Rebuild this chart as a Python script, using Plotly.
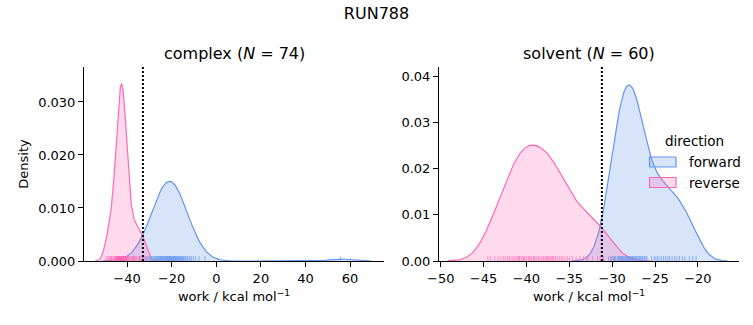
import numpy as np
import plotly.graph_objects as go

# ---------------- data ----------------
fig_title = "RUN788"
phases = ["complex", "solvent"]
phase_n = [74, 60]
directions = ["forward", "reverse"]
legend_title = "direction"

complex_forward = [
    -37.0, -34.3, -32.8, -31.8, -31.0, -30.3, -29.8, -29.2, -28.8, -28.3, -27.9, -27.5,
    -27.2, -26.8, -26.5, -26.2, -25.9, -25.6, -25.3, -25.0, -24.8, -24.5, -24.3, -24.0,
    -23.8, -23.5, -23.3, -23.0, -22.8, -22.6, -22.3, -22.1, -21.9, -21.7, -21.4, -21.2,
    -21.0, -20.8, -20.6, -20.3, -20.1, -19.9, -19.7, -19.4, -19.2, -19.0, -18.7, -18.5,
    -18.2, -18.0, -17.7, -17.5, -17.2, -17.0, -16.7, -16.4, -16.1, -15.8, -15.5, -15.2,
    -14.8, -14.5, -14.1, -13.7, -13.2, -12.8, -12.2, -11.7, -11.0, -10.2, -9.2, -7.7,
    -5.0, 55.6,
]
complex_reverse = [
    -49.5, -48.8, -48.2, -47.7, -47.0,
    -47.3, -46.4, -45.9, -45.6, -45.3, -45.1, -44.9, -44.8, -44.6, -44.5, -44.3, -44.2,
    -44.1, -44.0, -43.8, -43.7, -43.6, -43.5, -43.4, -43.3, -43.3, -43.2, -43.1, -43.0,
    -42.9, -42.8, -42.7, -42.6, -42.5,
    -42.5, -42.4, -42.3, -42.2, -42.1, -42.0, -41.9, -41.8, -41.7, -41.7, -41.6, -41.5,
    -41.4, -41.3, -41.2, -41.0, -40.9, -40.8, -40.7, -40.5, -40.4, -40.2, -40.1, -39.9,
    -39.7, -39.4, -39.1, -38.6, -37.9,
    -37.6, -37.1, -36.6, -36.1, -35.6, -35.0, -34.4, -33.8, -33.1, -32.4, -31.4,
]
solvent_forward = [
    -31.0, -30.4, -30.1, -29.9, -29.8, -29.7, -29.6, -29.4, -29.3, -29.2, -29.1, -29.0,
    -28.9, -28.8, -28.7, -28.6, -28.5, -28.4, -28.3, -28.2, -28.1, -28.0, -27.95, -27.9,
    -27.75, -27.65, -27.6, -27.5, -27.35, -27.3, -27.15, -27.1, -26.95, -26.8, -26.7,
    -26.55, -26.45, -26.3, -26.2, -26.05, -25.95,
    -25.4, -25.1, -24.9, -24.7, -24.5, -24.25, -24.0, -23.75, -23.5, -23.3, -23.0,
    -22.7, -22.45, -22.15, -21.8, -21.5, -21.0, -20.6, -20.2,
]
solvent_reverse = [
    -44.5, -44.2, -43.7, -43.3, -43.0, -42.7, -42.5, -42.2, -42.0, -41.8, -41.6, -41.4,
    -41.2, -41.0, -40.9, -40.8, -40.6, -40.4, -40.3, -40.2, -40.0, -39.8, -39.7, -39.6,
    -39.4, -39.2, -39.1, -39.0, -38.8, -38.6, -38.4, -38.2, -38.0, -37.8,
    -37.7, -37.55, -37.4, -37.25, -37.1, -36.95, -36.8,
    -36.6, -36.4, -36.15, -35.95, -35.75,
    -35.5, -35.2, -34.95, -34.65,
    -34.2, -33.75, -33.35, -33.0,
    -32.8, -32.3, -31.7, -31.4, -31.0, -30.2,
]

# share of the common density normalisation carried by each curve (forward, reverse)
complex_weights = [0.305, 0.272]
solvent_weights = [0.254, 0.25]

# free-energy estimates (dotted lines)
free_energy = [-32.9, -31.2]

x_ticks = [[-40, -20, 0, 20, 40, 60], [-50, -45, -40, -35, -30, -25, -20]]
y_ticks = [[0, 0.01, 0.02, 0.03], [0, 0.01, 0.02, 0.03, 0.04]]

# ---------------- style ----------------
W, H = 753, 325
colors = {"forward": "#6495ED", "reverse": "#FF69B4"}
fills = {"forward": "rgba(100,149,237,0.25)", "reverse": "rgba(255,105,180,0.25)"}
rug_colors = {"forward": "rgba(100,149,237,0.7)", "reverse": "rgba(255,105,180,0.7)"}
x_ranges = [[-59.3, 75.2], [-50.2, -15.2]]
y_ranges = [[0, 0.0366], [0, 0.042]]
y_formats = [".3f", ".2f"]
x_domains = [[84 / W, 384 / W], [439 / W, 739 / W]]
y_domain = [1 - 261 / H, 1 - 67 / H]
rug_height = 0.025
FONT = "DejaVu Sans"


def kde(samples, weight, cut=3, gridsize=200):
    x = np.asarray(samples, dtype=float)
    bw = x.std(ddof=1) * len(x) ** (-0.2)  # Scott's rule
    grid = np.linspace(x.min() - cut * bw, x.max() + cut * bw, gridsize)
    dens = np.exp(-0.5 * ((grid[:, None] - x[None, :]) / bw) ** 2).sum(axis=1)
    dens /= len(x) * bw * np.sqrt(2 * np.pi)
    return grid, dens * weight


panels = [
    (complex_forward, complex_reverse, complex_weights),
    (solvent_forward, solvent_reverse, solvent_weights),
]

fig = go.Figure()
for i, (fwd, rev, wts) in enumerate(panels):
    xa = "x" if i == 0 else "x2"
    ya = "y" if i == 0 else "y2"
    for d, samples, wt in zip(directions, [fwd, rev], wts):
        gx, gy = kde(samples, wt)
        fig.add_trace(go.Scatter(
            x=gx, y=gy, mode="lines", fill="tozeroy", fillcolor=fills[d],
            line=dict(color=colors[d], width=1.2), name=d,
            showlegend=False, xaxis=xa, yaxis=ya, hoverinfo="skip"))
    for d, samples in zip(directions, [fwd, rev]):
        rx, ry = [], []
        h = rug_height * y_ranges[i][1]
        for s in samples:
            rx += [s, s, None]
            ry += [0, h, None]
        fig.add_trace(go.Scatter(
            x=rx, y=ry, mode="lines", line=dict(color=rug_colors[d], width=1),
            showlegend=False, xaxis=xa, yaxis=ya, hoverinfo="skip"))
    fig.add_trace(go.Scatter(
        x=[free_energy[i], free_energy[i]], y=[y_ranges[i][0], y_ranges[i][1]],
        mode="lines", line=dict(color="black", width=2, dash="2px,2px"),
        showlegend=False, xaxis=xa, yaxis=ya, hoverinfo="skip"))

axis_common = dict(showline=True, linecolor="black", linewidth=1, ticks="outside",
                   ticklen=5, tickwidth=1, tickcolor="black", showgrid=False,
                   zeroline=False, automargin=False,
                   tickfont=dict(family=FONT, size=13, color="black"))

xlabel = "work / kcal mol<sup>−1</sup>"
layout_axes = {}
for i in range(2):
    sx = "" if i == 0 else "2"
    layout_axes["xaxis" + sx] = dict(
        axis_common, domain=x_domains[i], range=x_ranges[i], tickvals=x_ticks[i],
        anchor="y" + sx,
        title=dict(text=xlabel, standoff=7, font=dict(family=FONT, size=13, color="black")))
    layout_axes["yaxis" + sx] = dict(
        axis_common, domain=y_domain, range=y_ranges[i], tickvals=y_ticks[i],
        tickformat=y_formats[i], anchor="x" + sx)
layout_axes["yaxis"]["title"] = dict(text="Density", standoff=6,
                                     font=dict(family=FONT, size=13, color="black"))
fig.update_layout(**layout_axes)

annotations = []
for i in range(2):
    annotations.append(dict(
        text=f"{phases[i]} (<i>N</i> = {phase_n[i]})", xref="paper", yref="paper",
        x=sum(x_domains[i]) / 2, y=1 - 54 / H, xanchor="center", yanchor="middle",
        showarrow=False, font=dict(family=FONT, size=16, color="black")))

# legend drawn as patches + labels (matplotlib-style rectangle handles)
shapes = []
annotations.append(dict(text=legend_title, xref="paper", yref="paper", x=694 / W,
                        y=1 - 141 / H, xanchor="center", yanchor="middle", showarrow=False,
                        font=dict(family=FONT, size=13.5, color="black")))
for k, d in enumerate(directions):
    yc = 162 + 20.5 * k
    shapes.append(dict(type="rect", xref="paper", yref="paper",
                       x0=649.5 / W, x1=676 / W, y0=1 - (yc + 5) / H, y1=1 - (yc - 5) / H,
                       fillcolor=fills[d], line=dict(color=colors[d], width=1.2)))
    annotations.append(dict(text=d, xref="paper", yref="paper", x=687 / W, y=1 - yc / H,
                            xanchor="left", yanchor="middle", showarrow=False,
                            font=dict(family=FONT, size=13.5, color="black")))

fig.update_layout(
    width=W, height=H, margin=dict(l=0, r=0, t=0, b=0),
    paper_bgcolor="white", plot_bgcolor="white",
    font=dict(family=FONT, size=13, color="black"),
    title=dict(text=fig_title, x=0.5, xanchor="center", y=1 - 13 / H, yanchor="middle",
               font=dict(family=FONT, size=16, color="black")),
    showlegend=False,
    annotations=annotations,
    shapes=shapes,
)

fig.write_html("out.html")
